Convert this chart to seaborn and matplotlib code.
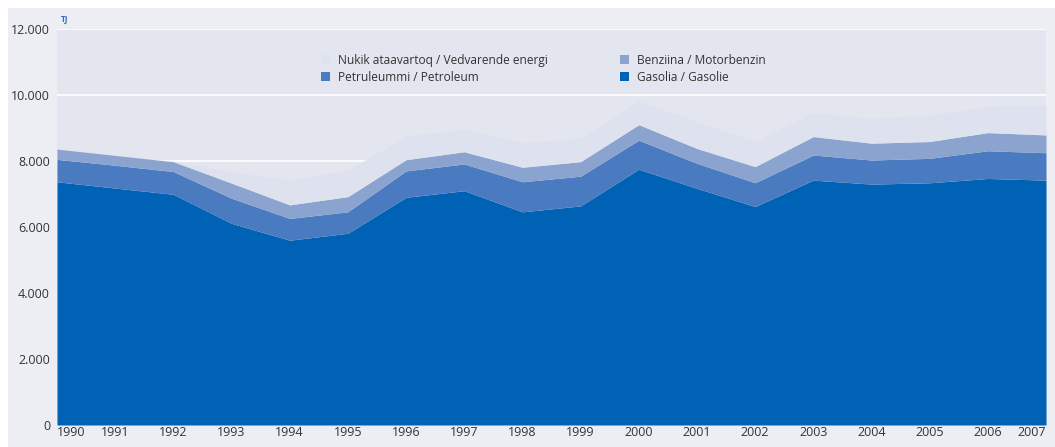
"""
Stacked area chart of energy use (TJ), 1990-2007.
"""

import matplotlib
matplotlib.use("Agg")
import matplotlib.pyplot as plt
from matplotlib.patches import Patch, Rectangle
import seaborn as sns

years = list(range(1990, 2008))
gasolie = [7370, 7180, 6990, 6110, 5600, 5810, 6900, 7100, 6460,
           6640, 7750, 7170, 6620, 7420, 7300, 7340, 7470, 7420]
petroleum = [680, 690, 690, 760, 660, 650, 800, 810, 910,
             900, 880, 760, 720, 760, 730, 740, 840, 830]
benzin = [310, 300, 300, 460, 410, 460, 340, 370, 440,
          440, 470, 450, 490, 560, 510, 510, 550, 540]
vedvarende = [0, 0, 10, 340, 750, 810, 710, 680, 750,
              710, 720, 810, 760, 720, 750, 800, 790, 910]

labels = ["Gasolia / Gasolie", "Petruleummi / Petroleum",
          "Benziina / Motorbenzin", "Nukik ataavartoq / Vedvarende energi"]
colors = ["#0062b4", "#4a7bc1", "#8ba4cf", "#dde2ee"]
yticks = [0, 2000, 4000, 6000, 8000, 10000, 12000]
ytick_labels = ["0", "2.000", "4.000", "6.000", "8.000", "10.000", "12.000"]

sns.set_theme(style="darkgrid")
plt.rcParams["font.family"] = ["Open Sans", "DejaVu Sans"]

fig = plt.figure(figsize=(10.55, 4.47), dpi=100, facecolor="white")
fig.patches.append(Rectangle((8 / 1055, 0), 1 - 8 / 1055, 1 - 8 / 447,
                             transform=fig.transFigure, facecolor="#eceef4",
                             edgecolor="none", zorder=-10))
ax = fig.add_axes([57 / 1055, 22 / 447, 989 / 1055, 396 / 447])
ax.set_facecolor("#e3e5ef")

ax.stackplot(years, gasolie, petroleum, benzin, vedvarende,
             colors=colors, linewidth=0)

ax.set_xlim(years[0], years[-1])
ax.set_ylim(0, 12000)
ax.set_yticks(yticks)
ax.set_yticklabels(ytick_labels)
ax.set_xticks(years)
ax.set_xticklabels([str(y) for y in years])
xt = ax.get_xticklabels()
xt[0].set_ha("left")
xt[-1].set_ha("right")
ax.tick_params(axis="both", length=0, labelsize=9, colors="#333333")
ax.tick_params(axis="x", pad=0.5)
ax.tick_params(axis="y", pad=5)
ax.grid(True, axis="y", color="white", linewidth=1.2)
ax.grid(False, axis="x")
ax.set_axisbelow(True)
for s in ax.spines.values():
    s.set_visible(False)

fig.text(61 / 1055, 1 - 20 / 447, "TJ", color="#3a6fc0", fontsize=6,
         fontweight="bold", va="center")

order = [3, 1, 2, 0]
handles = [Patch(facecolor=colors[i], edgecolor="none", label=labels[i])
           for i in order]
ax.legend(handles=handles, ncol=2, loc="upper left",
          bbox_to_anchor=(0.256, 0.965), frameon=False, fontsize=8.6,
          handlelength=0.75, handleheight=0.75, handletextpad=0.7,
          columnspacing=6.0, labelspacing=0.35, labelcolor="#333333")

fig.savefig("out.png", dpi=100)
